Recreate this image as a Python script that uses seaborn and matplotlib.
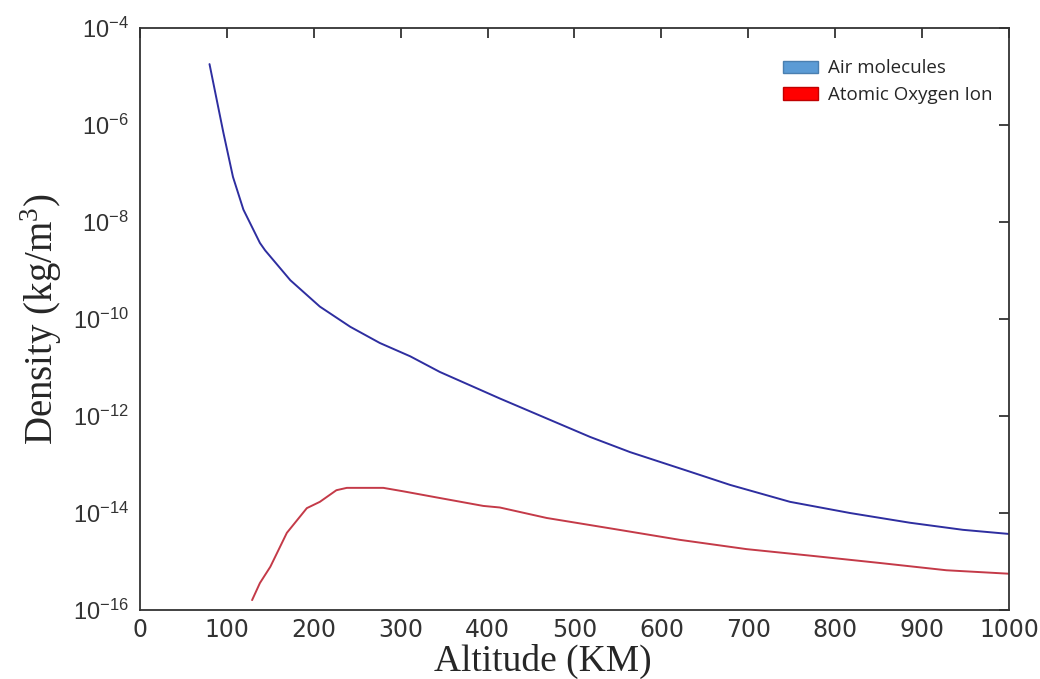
import numpy as np
import pandas as pd
import matplotlib
matplotlib.use("Agg")
import matplotlib.pyplot as plt
import seaborn as sns
from matplotlib.patches import Patch

air_alt = [80, 96, 107, 119, 138, 144, 173, 207, 242, 276, 311, 345, 391,
           414, 472, 518, 564, 633, 679, 748, 817, 886, 947, 1000]
air_density = [1.8e-5, 6.9e-7, 8.5e-8, 1.8e-8, 3.7e-9, 2.6e-9, 6.3e-10,
               1.8e-10, 6.9e-11, 3.2e-11, 1.7e-11, 8.1e-12, 3.5e-12,
               2.3e-12, 8.3e-13, 3.7e-13, 1.8e-13, 7.1e-14, 3.8e-14,
               1.7e-14, 1.0e-14, 6.3e-15, 4.5e-15, 3.7e-15]

oxy_alt = [129, 138, 150, 169, 192, 207, 226, 238, 280, 303, 341, 395,
           414, 468, 545, 621, 698, 775, 852, 928, 1000]
oxy_density = [1.6e-16, 3.6e-16, 7.8e-16, 3.9e-15, 1.26e-14, 1.7e-14,
               2.95e-14, 3.3e-14, 3.3e-14, 2.8e-14, 2.1e-14, 1.4e-14,
               1.3e-14, 7.9e-15, 4.7e-15, 2.8e-15, 1.8e-15, 1.3e-15,
               9.3e-16, 6.6e-16, 5.6e-16]

x_ticks = [0, 100, 200, 300, 400, 500, 600, 700, 800, 900, 1000]
y_exps = [-16, -14, -12, -10, -8, -6, -4]
legend_labels = ["Air molecules", "Atomic Oxygen Ion"]

sns.set_style("white")
plt.rcParams["mathtext.fontset"] = "custom"
plt.rcParams["mathtext.rm"] = "Liberation Sans"
plt.rcParams["mathtext.it"] = "Liberation Sans"

df_air = pd.DataFrame({"alt": air_alt, "density": air_density})
df_oxy = pd.DataFrame({"alt": oxy_alt, "density": oxy_density})

fig = plt.figure(figsize=(10.4, 6.79), dpi=100)
ax = fig.add_axes([0.1346, 0.1016, 0.8356, 0.8572])

sns.lineplot(data=df_air, x="alt", y="density", ax=ax, color="#2e2ea0", linewidth=1.4)
sns.lineplot(data=df_oxy, x="alt", y="density", ax=ax, color="#c43a48", linewidth=1.4)

ax.set_yscale("log")
ax.set_xlim(0, 1000)
ax.set_ylim(1e-16, 1e-4)
ax.set_xticks(x_ticks)
ax.set_xticklabels([str(t) for t in x_ticks])
ax.set_yticks([10.0 ** e for e in y_exps])
ax.set_yticklabels([r"$10^{%d}$" % e for e in y_exps])
ax.yaxis.set_minor_locator(matplotlib.ticker.NullLocator())

ax.tick_params(axis="both", which="major", direction="in", length=7, width=1.3,
               top=True, right=True, labelsize=17, labelcolor="#333333", color="#333333", pad=8)
ax.tick_params(axis="x", pad=6)
for sp in ax.spines.values():
    sp.set_color("#333333")
    sp.set_linewidth(1.3)

ax.set_xlabel("Altitude (KM)", fontsize=27, family="Liberation Serif")
ax.xaxis.set_label_coords(0.463, -0.058)
ax.set_ylabel(r"Density (kg/m$^{\mathregular{3}}$)", fontsize=28, family="Liberation Serif", labelpad=6)

handles = [Patch(facecolor="#5b9bd5", edgecolor="#4a7fb0"),
           Patch(facecolor="#ff0000", edgecolor="#c00000")]
ax.legend(handles, legend_labels, loc="upper left", bbox_to_anchor=(0.72, 0.975),
          frameon=False, handlelength=1.9, handleheight=0.65,
          handletextpad=0.5, labelspacing=0.45, prop={"family": "Open Sans", "size": 13.5})

fig.savefig("out.png", dpi=100)
